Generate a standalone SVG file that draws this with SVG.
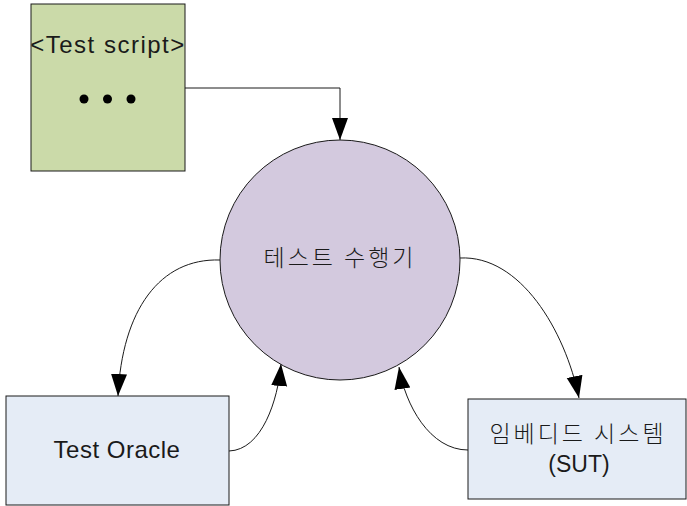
<svg xmlns="http://www.w3.org/2000/svg" width="687" height="506" viewBox="0 0 687 506">
<defs>
<marker id="arr" markerUnits="userSpaceOnUse" markerWidth="24" markerHeight="18" refX="22" refY="8" orient="auto"><path d="M0,0 L22,8 L0,16 z" fill="#000"/></marker>
<style>
.node{stroke:#1a1a1a;stroke-width:1}
.lbl{font-family:"Liberation Sans","Noto Sans CJK KR",sans-serif;fill:#1a1a1a;text-anchor:middle}
.kr{font-family:"Noto Sans CJK KR",sans-serif;fill:#1a1a1a;text-anchor:middle;font-weight:300}
.conn{fill:none;stroke:#1a1a1a;stroke-width:1;marker-end:url(#arr)}
</style>
</defs>
<rect width="687" height="506" fill="#fff"/>
<g id="connectors">
<path class="conn" d="M185,88 L340,88 L340,140"/>
<path class="conn" d="M220,260 C160,258 122,310 118,396"/>
<path class="conn" d="M229,451 C262,450 278,400 281,364"/>
<path class="conn" d="M460,258 C520,255 565,330 579,398"/>
<path class="conn" d="M468,450 C430,450 405,405 399,367"/>
</g>
<g id="test-script">
<rect class="node" x="31" y="4" width="154" height="167" fill="#cbdaa9"/>
<text class="lbl" x="108" y="53" font-size="24" letter-spacing="1.5">&lt;Test script&gt;</text>
<circle cx="84" cy="99" r="4.5" fill="#000"/><circle cx="107.5" cy="99" r="4.5" fill="#000"/><circle cx="131" cy="99" r="4.5" fill="#000"/>
</g>
<g id="executor">
<circle class="node" cx="340" cy="260" r="120" fill="#d3c9de"/>
<text class="kr" x="340" y="266" font-size="23" letter-spacing="3">테스트 수행기</text>
</g>
<g id="oracle">
<rect class="node" x="6" y="396" width="223" height="109" fill="#e5ecf6"/>
<text class="lbl" x="117" y="458" font-size="24" letter-spacing="0.5">Test Oracle</text>
</g>
<g id="sut">
<rect class="node" x="468" y="399" width="218" height="100" fill="#e5ecf6"/>
<text class="kr" x="578" y="442" font-size="23" letter-spacing="3">임베디드 시스템</text>
<text class="lbl" x="579" y="472" font-size="23">(SUT)</text>
</g>
</svg>
